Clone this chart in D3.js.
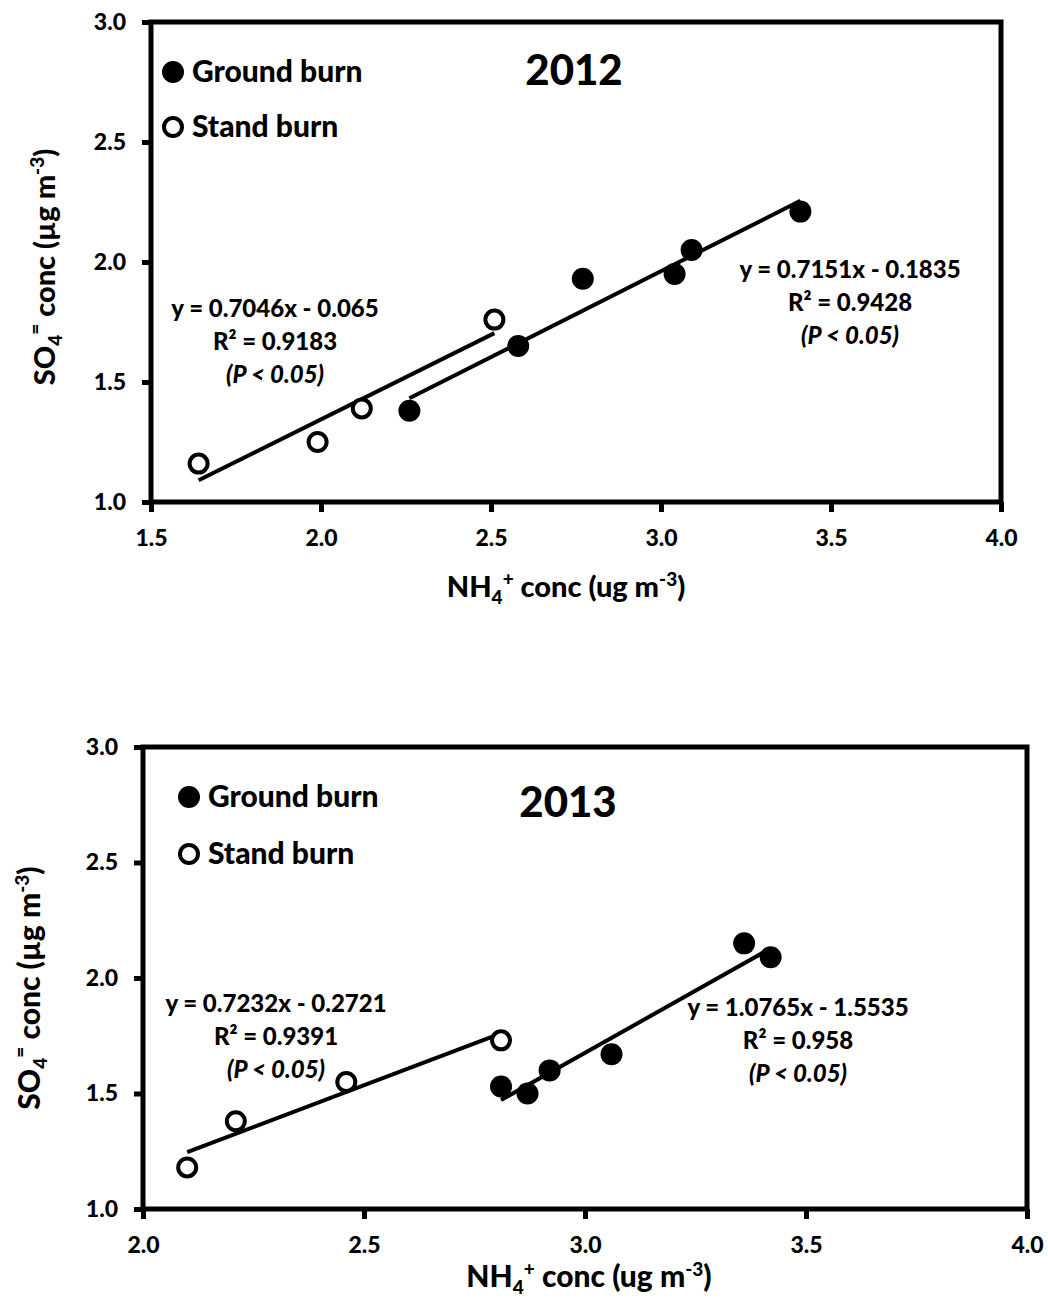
<!DOCTYPE html>
<html>
<head>
<meta charset="utf-8">
<script src="https://cdn.jsdelivr.net/npm/d3@7"></script>
<style>
    body { margin: 0; background: #fff; }
    svg text { font-family: Lato, "Open Sans", sans-serif; font-weight: 900; fill: #000; }
</style>
</head>
<body>
<div id="chart"></div>
<script>

// values
const yTicks = [1.0, 1.5, 2.0, 2.5, 3.0];
const xTicks2012 = [1.5, 2.0, 2.5, 3.0, 3.5, 4.0];
const xTicks2013 = [2.0, 2.5, 3.0, 3.5, 4.0];

// 2012
const ground2012X = [2.26, 2.58, 2.77, 3.04, 3.09, 3.41];
const ground2012Y = [1.38, 1.65, 1.93, 1.95, 2.05, 2.21];
const stand2012X = [1.64, 1.99, 2.12, 2.51];
const stand2012Y = [1.16, 1.25, 1.39, 1.76];

// 2013
const ground2013X = [2.81, 2.87, 2.92, 3.06, 3.36, 3.42];
const ground2013Y = [1.53, 1.50, 1.60, 1.67, 2.15, 2.09];
const stand2013X = [2.10, 2.21, 2.46, 2.81];
const stand2013Y = [1.18, 1.38, 1.55, 1.73];

// trend line fits as printed: [slope, intercept, R2]
const fitGround2012 = [0.7151, -0.1835, 0.9428];
const fitStand2012 = [0.7046, -0.065, 0.9183];
const fitGround2013 = [1.0765, -1.5535, 0.958];
const fitStand2013 = [0.7232, -0.2721, 0.9391];

const legendNames = ["Ground burn", "Stand burn"];


class ScatterPanel {

    constructor(svg, opts) {
        this.svg = svg;
        this.opts = opts;
        this.initVis();
    }

    initVis() {
        let vis = this;
        let b = vis.opts.box;

        vis.g = vis.svg.append("g");

        vis.x = d3.scaleLinear()
            .domain(d3.extent(vis.opts.xTicks))
            .range([b.left, b.right]);

        vis.y = d3.scaleLinear()
            .domain(d3.extent(yTicks))
            .range([b.bottom, b.top]);

        // axes, the frame is drawn separately
        vis.g.append("g")
            .attr("class", "axis")
            .attr("transform", `translate(0,${b.bottom})`)
            .call(d3.axisBottom(vis.x).tickValues(vis.opts.xTicks).tickFormat(d3.format(".1f"))
                .tickSize(10).tickSizeOuter(0).tickPadding(18));

        vis.g.append("g")
            .attr("class", "axis")
            .attr("transform", `translate(${b.left},0)`)
            .call(d3.axisLeft(vis.y).tickValues(yTicks).tickFormat(d3.format(".1f"))
                .tickSize(9).tickSizeOuter(0).tickPadding(16));

        vis.g.selectAll(".axis .domain").remove();
        vis.g.selectAll(".axis line").attr("stroke", "#000").attr("stroke-width", 5);
        vis.g.selectAll(".axis text").style("font-size", "23px").attr("fill", "#000");

        vis.g.append("rect")
            .attr("x", b.left)
            .attr("y", b.top)
            .attr("width", b.right - b.left)
            .attr("height", b.bottom - b.top)
            .attr("fill", "none")
            .attr("stroke", "#000")
            .attr("stroke-width", 5);

        // x title
        let fs = vis.opts.titleSize;
        let xt = vis.g.append("text")
            .attr("x", vis.opts.xTitle[0])
            .attr("y", vis.opts.xTitle[1])
            .attr("text-anchor", "middle")
            .style("font-size", fs + "px");
        xt.append("tspan").text("NH");
        xt.append("tspan").attr("dy", 7).style("font-size", "19px").text("4");
        xt.append("tspan").attr("dy", -18).style("font-size", "19px").text("+");
        xt.append("tspan").attr("dy", 11).text(" conc (ug m");
        xt.append("tspan").attr("dy", -11).style("font-size", "19px").text("-3");
        xt.append("tspan").attr("dy", 11).text(")");

        // y title
        let yt = vis.g.append("text")
            .attr("transform", `translate(${vis.opts.yTitle[0]},${vis.opts.yTitle[1]}) rotate(-90)`)
            .attr("text-anchor", "middle")
            .style("font-size", fs + "px");
        yt.append("tspan").text("SO");
        yt.append("tspan").attr("dy", 7).style("font-size", "19px").text("4");
        yt.append("tspan").attr("dy", -20).style("font-size", "19px").text("=");
        yt.append("tspan").attr("dy", 13).text(" conc (µg m");
        yt.append("tspan").attr("dy", -11).style("font-size", "19px").text("-3");
        yt.append("tspan").attr("dy", 11).text(")");

        // year
        vis.g.append("text")
            .attr("x", vis.opts.title[0])
            .attr("y", vis.opts.title[1])
            .attr("text-anchor", "middle")
            .style("font-size", "42px")
            .text(vis.opts.year);

        vis.updateVis();
    }

    updateVis() {
        let vis = this;

        vis.opts.series.forEach(s => {
            let pts = s.xs.map((x, i) => ({x: x, y: s.ys[i]}));
            let xr = d3.extent(s.xs);

            // trend line from the printed fit
            vis.g.append("path")
                .datum(xr.map(x => ({x: x, y: s.fit[0] * x + s.fit[1]})))
                .attr("d", d3.line().x(d => vis.x(d.x)).y(d => vis.y(d.y)))
                .attr("fill", "none")
                .attr("stroke", "#000")
                .attr("stroke-width", 4);

            vis.g.selectAll(null)
                .data(pts)
                .enter().append("circle")
                .attr("cx", d => vis.x(d.x))
                .attr("cy", d => vis.y(d.y))
                .attr("r", s.filled ? 11 : 9)
                .attr("fill", s.filled ? "#000" : "#fff")
                .attr("stroke", "#000")
                .attr("stroke-width", s.filled ? 0 : 4);

            // equation label
            let sign = s.fit[1] < 0 ? " - " : " + ";
            let eq = vis.g.append("text")
                .attr("text-anchor", "middle")
                .style("font-size", "24px");
            eq.append("tspan")
                .attr("x", s.eq[0]).attr("y", s.eq[1])
                .text("y = " + s.fit[0] + "x" + sign + Math.abs(s.fit[1]));
            eq.append("tspan")
                .attr("x", s.eq[0]).attr("y", s.eq[1] + 33)
                .text("R² = " + s.fit[2]);
            eq.append("tspan")
                .attr("x", s.eq[0]).attr("y", s.eq[1] + 66)
                .style("font-style", "italic")
                .text("(P < 0.05)");
        });

        // legend
        vis.opts.series.forEach((s, i) => {
            let lx = vis.opts.legend[0], ly = vis.opts.legend[1] + i * vis.opts.legend[2];
            vis.g.append("circle")
                .attr("cx", lx)
                .attr("cy", ly)
                .attr("r", s.filled ? 11 : 9)
                .attr("fill", s.filled ? "#000" : "#fff")
                .attr("stroke", "#000")
                .attr("stroke-width", s.filled ? 0 : 4);
            vis.g.append("text")
                .attr("x", lx + 19)
                .attr("y", ly + 10)
                .style("font-size", "30px")
                .text(legendNames[i]);
        });
    }
}


let svg = d3.select("#chart").append("svg")
    .attr("width", 1048)
    .attr("height", 1300);

new ScatterPanel(svg, {
    year: "2012",
    box: {left: 151, right: 1001, top: 22, bottom: 502},
    xTicks: xTicks2012,
    titleSize: 29,
    xTitle: [566, 597],
    yTitle: [55, 267],
    title: [574, 85],
    legend: [173, 72, 55],
    series: [
        {xs: ground2012X, ys: ground2012Y, fit: fitGround2012, filled: true, eq: [850, 278]},
        {xs: stand2012X, ys: stand2012Y, fit: fitStand2012, filled: false, eq: [275, 317]}
    ]
});

new ScatterPanel(svg, {
    year: "2013",
    box: {left: 143, right: 1027, top: 747, bottom: 1209},
    xTicks: xTicks2013,
    titleSize: 30,
    xTitle: [589, 1287],
    yTitle: [40, 988],
    title: [568, 817],
    legend: [189, 797, 57],
    series: [
        {xs: ground2013X, ys: ground2013Y, fit: fitGround2013, filled: true, eq: [798, 1016]},
        {xs: stand2013X, ys: stand2013Y, fit: fitStand2013, filled: false, eq: [276, 1012]}
    ]
});

</script>
</body>
</html>
